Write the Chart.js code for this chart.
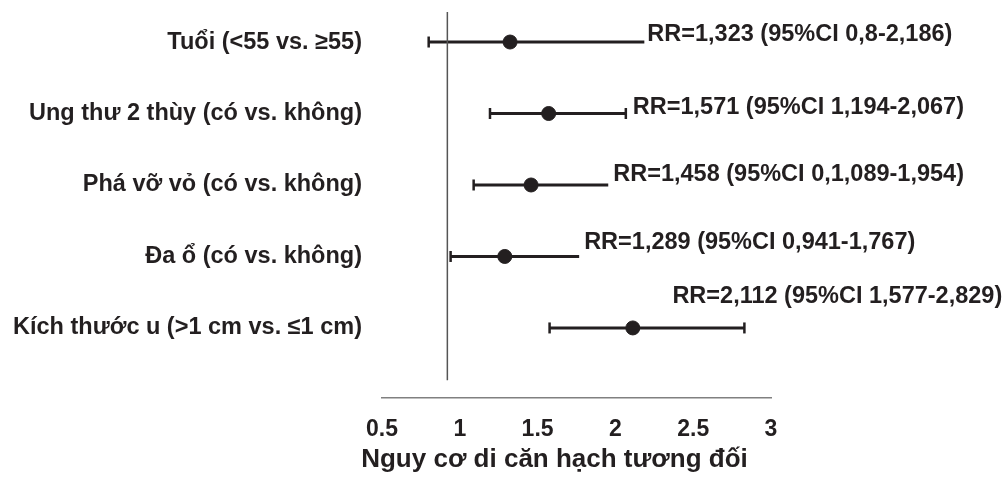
<!DOCTYPE html>
<html>
<head>
<meta charset="utf-8">
<script src="https://cdn.jsdelivr.net/npm/chart.js@4"></script>
<style>
  html, body { margin: 0; padding: 0; background: #fff; }
  #wrap { width: 1008px; height: 480px; }
</style>
</head>
<body>
<div id="wrap"><canvas id="forest"></canvas></div>
<script>
// data
const categories = ['Tuổi (<55 vs. ≥55)', 'Ung thư 2 thùy (có vs. không)', 'Phá vỡ vỏ (có vs. không)', 'Đa ổ (có vs. không)', 'Kích thước u (>1 cm vs. ≤1 cm)'];
const rr = [1.323, 1.571, 1.458, 1.289, 2.112];
const ciLow = [0.8, 1.194, 1.089, 0.941, 1.577];
const ciHigh = [2.186, 2.067, 1.954, 1.767, 2.829];
const rrLabels = ['RR=1,323 (95%CI 0,8-2,186)', 'RR=1,571 (95%CI 1,194-2,067)', 'RR=1,458 (95%CI 0,1,089-1,954)', 'RR=1,289 (95%CI 0,941-1,767)', 'RR=2,112 (95%CI 1,577-2,829)'];
const xTicks = [0.5, 1, 1.5, 2, 2.5, 3];
const refLine = 0.92;
const axisTitle = 'Nguy cơ di căn hạch tương đối';

// look of the marks (not data)
const ink = '#231f20';
const fontFam = '"Liberation Sans", Arial, sans-serif';
const rightCap = [false, true, false, false, true];
const labelShift = [[3, -8], [7, -6], [5, -10], [5, -14], [-72, -31]];

const datasets = [];

// reference line
datasets.push({
  type: 'line',
  data: [{x: refLine, y: -0.42}, {x: refLine, y: 4.73}],
  borderColor: '#555',
  borderWidth: 1.5,
  pointRadius: 0
});

// confidence intervals
categories.forEach(function(c, i){
  datasets.push({
    type: 'line',
    data: [{x: ciLow[i], y: i}, {x: ciHigh[i], y: i}],
    borderColor: ink,
    borderWidth: 3,
    pointStyle: 'line',
    pointRotation: 90,
    pointRadius: [5.5, rightCap[i] ? 5.5 : 0],
    pointBorderWidth: 2.5,
    pointBorderColor: ink
  });
});

// point estimates
datasets.push({
  type: 'scatter',
  data: rr.map((v, i) => ({x: v, y: i})),
  backgroundColor: ink,
  borderColor: ink,
  borderWidth: 1,
  pointRadius: 7
});

const rrText = {
  id: 'rrText',
  afterDatasetsDraw(chart){
    const ctx = chart.ctx;
    const xs = chart.scales.x, ys = chart.scales.y;
    ctx.save();
    ctx.font = 'bold 23.5px ' + fontFam;
    ctx.fillStyle = ink;
    ctx.textAlign = 'left';
    ctx.textBaseline = 'middle';
    rrLabels.forEach(function(t, i){
      const px = xs.getPixelForValue(ciHigh[i]) + labelShift[i][0];
      const py = ys.getPixelForValue(i) + labelShift[i][1];
      ctx.fillText(t, px, py);
    });
    // axis title, sits a little left of the axis centre in the original
    ctx.font = 'bold 26px ' + fontFam;
    ctx.textAlign = 'center';
    const a = chart.chartArea;
    ctx.fillText(axisTitle, (a.left + a.right) / 2 - 22, xs.bottom - 16);
    ctx.restore();
  }
};

new Chart(document.getElementById('forest'), {
  type: 'scatter',
  data: { datasets: datasets },
  plugins: [rrText],
  options: {
    responsive: true,
    maintainAspectRatio: false,
    animation: false,
    events: [],
    layout: { padding: { top: 12, right: 237, bottom: 4, left: 0 } },
    plugins: { legend: { display: false }, tooltip: { enabled: false } },
    scales: {
      x: {
        type: 'linear',
        min: 0.5,
        max: 3,
        afterBuildTicks: s => { s.ticks = xTicks.map(v => ({value: v})); },
        afterFit: s => { s.height = 78; s.paddingLeft = 0; s.paddingRight = 0; },
        grid: { display: false, drawTicks: false },
        border: { display: true, color: '#808080', width: 1.5 },
        ticks: {
          padding: 18,
          color: ink,
          font: { family: fontFam, size: 23, weight: 'bold' },
          callback: v => String(v),
          maxRotation: 0
        }
      },
      y: {
        type: 'linear',
        reverse: true,
        min: -0.42,
        max: 4.98,
        afterBuildTicks: s => { s.ticks = categories.map((c, i) => ({value: i})); },
        afterFit: s => { s.width = 382; s.paddingTop = 0; s.paddingBottom = 0; },
        grid: { display: false, drawTicks: false },
        border: { display: false },
        ticks: {
          padding: 20,
          color: ink,
          font: { family: fontFam, size: 23.5, weight: 'bold' },
          callback: v => categories[v]
        }
      }
    }
  }
});
</script>
</body>
</html>
